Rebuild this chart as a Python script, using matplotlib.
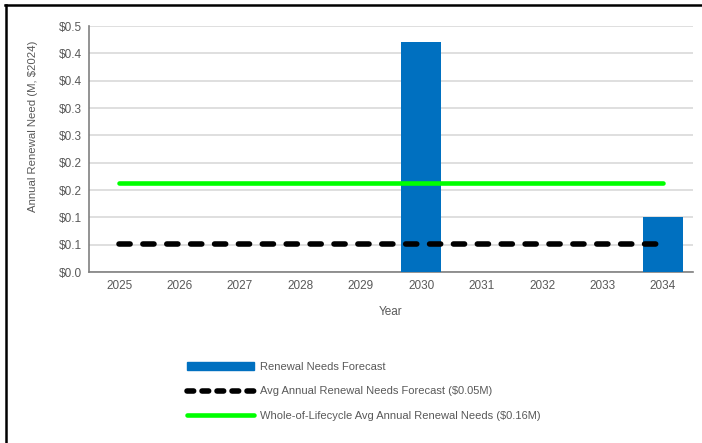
import matplotlib.pyplot as plt
from matplotlib.lines import Line2D
from matplotlib.patches import Patch

plt.rcParams['font.family'] = ['Liberation Sans Narrow', 'Liberation Sans', 'DejaVu Sans']

years = ['2025', '2026', '2027', '2028', '2029', '2030', '2031', '2032', '2033', '2034']
renewal = [0, 0, 0, 0, 0, 0.42, 0, 0, 0, 0.10]
avg_forecast = sum(renewal) / len(renewal)
lifecycle_avg = 0.163
yticks = [0.0, 0.05, 0.10, 0.15, 0.20, 0.25, 0.30, 0.35, 0.40, 0.45]
ytick_labels = ['$0.0', '$0.1', '$0.1', '$0.2', '$0.2', '$0.3', '$0.3', '$0.4', '$0.4', '$0.5']

W, H = 702, 443
fig = plt.figure(figsize=(W / 100, H / 100), dpi=100)
ax = fig.add_axes([89 / W, 1 - 272 / H, (693 - 89) / W, (272 - 26) / H])

x = range(len(years))
ax.bar(x, renewal, width=0.66, color='#0070c0', zorder=3)
ax.plot([0, len(years) - 1], [lifecycle_avg] * 2, color='#00ff00', lw=3.3,
        solid_capstyle='round', zorder=4)
ax.plot([0, len(years) - 1], [avg_forecast] * 2, color='black', lw=4,
        dashes=(2, 2.3), dash_capstyle='round', zorder=4)

ax.set_xlim(-0.5, len(years) - 0.5)
ax.set_ylim(0, 0.45)
ax.set_xticks(list(x))
ax.set_xticklabels(years)
ax.set_yticks(yticks)
ax.set_yticklabels(ytick_labels)
ax.tick_params(length=0, labelsize=8.5, colors='#595959', pad=6)
ax.tick_params(axis='y', pad=5)
ax.grid(axis='y', color='#d9d9d9', lw=1.2, zorder=0)
for s in ['top', 'right']:
    ax.spines[s].set_visible(False)
for s in ['left', 'bottom']:
    ax.spines[s].set_color('#808080')
    ax.spines[s].set_linewidth(1.2)
ax.set_xlabel('Year', fontsize=8.5, color='#595959', labelpad=10)
ax.set_ylabel('Annual Renewal Need (M, $2024)', fontsize=8.2, color='#595959')
ax.yaxis.set_label_coords(-0.085, 0.593)

handles = [
    Patch(color='#0070c0'),
    Line2D([], [], color='black', lw=4, dashes=(1.2, 1.5), dash_capstyle='round'),
    Line2D([], [], color='#00ff00', lw=3.3, solid_capstyle='round'),
]
labels = [
    'Renewal Needs Forecast',
    'Avg Annual Renewal Needs Forecast (${:.2f}M)'.format(avg_forecast),
    'Whole-of-Lifecycle Avg Annual Renewal Needs (${:.2f}M)'.format(lifecycle_avg),
]
fig.legend(handles, labels, loc='upper left', bbox_to_anchor=(177 / W, 1 - 352 / H),
           frameon=False, fontsize=8, handlelength=6.0, handleheight=0.65,
           labelspacing=1.3, handletextpad=0.55, labelcolor='#595959')

# frame lines along the top and left edge
fig.add_artist(Line2D([5 / W, 1], [1 - 5 / H] * 2, color='black', lw=1.8))
fig.add_artist(Line2D([5.5 / W] * 2, [0, 1 - 5 / H], color='black', lw=1.8))

fig.savefig('out.png', dpi=100)
